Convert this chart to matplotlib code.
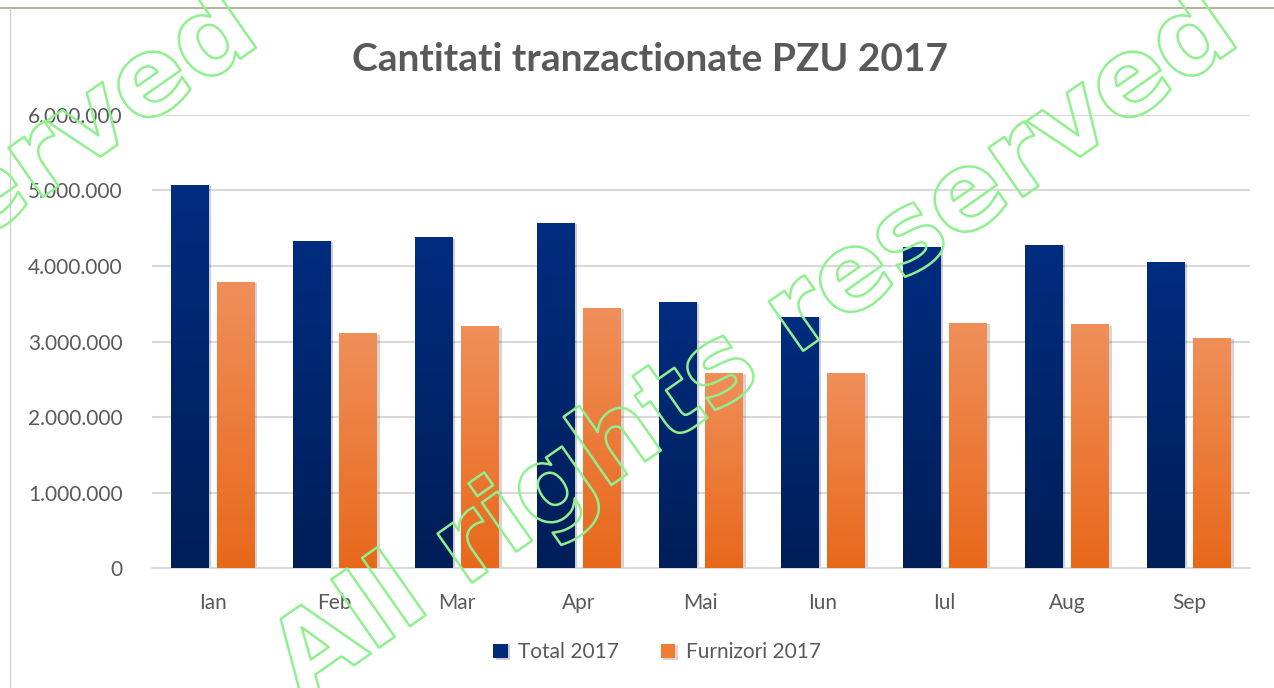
import numpy as np
import matplotlib.pyplot as plt
import matplotlib.patheffects as pe
from matplotlib.colors import LinearSegmentedColormap
from matplotlib.lines import Line2D
from matplotlib.ticker import FuncFormatter

months = ['Ian', 'Feb', 'Mar', 'Apr', 'Mai', 'Iun', 'Iul', 'Aug', 'Sep']
total_2017 = [5073000, 4330000, 4380000, 4570000, 3520000, 3330000, 4250000, 4280000, 4050000]
furnizori_2017 = [3790000, 3110000, 3200000, 3450000, 2590000, 2590000, 3250000, 3230000, 3050000]

TXT = '#595959'
plt.rcParams['font.family'] = ['Lato', 'DejaVu Sans']

fig = plt.figure(figsize=(12.74, 6.88), dpi=100)
ax = fig.add_axes([0.119, 0.174, 0.862, 0.659])

x = np.arange(len(months))
w = 0.31
off = 0.19
shadow = [pe.SimplePatchShadow(offset=(2, -1), alpha=0.2), pe.Normal()]
bars_t = ax.bar(x - off, total_2017, w, color='#002a78', zorder=2,
                path_effects=shadow, label='Total 2017')
bars_f = ax.bar(x + off, furnizori_2017, w, color='#f07d35', zorder=2,
                path_effects=shadow, label='Furnizori 2017')


def fill_gradient(bars, top, bottom):
    cmap = LinearSegmentedColormap.from_list('g', [bottom, top])
    grad = np.linspace(0, 1, 256).reshape(-1, 1)
    for b in bars:
        x0, y0 = b.get_x(), b.get_y()
        im = ax.imshow(grad, extent=[x0, x0 + b.get_width(), y0, y0 + b.get_height()],
                       origin='lower', aspect='auto', cmap=cmap, zorder=3)
        im.set_clip_path(b)


fill_gradient(bars_t, '#002d80', '#001e58')
fill_gradient(bars_f, '#f08f5a', '#e8681a')

ax.set_xlim(-0.5, len(months) - 0.5)
ax.set_ylim(0, 6000000)
ax.set_yticks(np.arange(0, 6000001, 1000000))
ax.yaxis.set_major_formatter(FuncFormatter(lambda v, p: f'{int(v):,}'.replace(',', '.')))
ax.set_xticks(x)
ax.set_xticklabels(months)
ax.tick_params(axis='both', length=0, labelsize=15, labelcolor=TXT)
ax.tick_params(axis='y', pad=21)
ax.tick_params(axis='x', pad=18)
ax.grid(axis='y', color='#d9d9d9', linewidth=1.5, zorder=0)
for s in ['top', 'right', 'left']:
    ax.spines[s].set_visible(False)
ax.spines['bottom'].set_color('#d9d9d9')
ax.spines['bottom'].set_linewidth(1.5)

fig.text(0.51, 0.913, 'Cantitati tranzactionate PZU 2017', ha='center', va='center',
         fontsize=28, fontweight='bold', color=TXT)

ax.legend(loc='center', bbox_to_anchor=(0.46, -0.185), ncol=2, frameon=False,
          fontsize=15, labelcolor=TXT, handlelength=0.7, handleheight=0.7,
          handletextpad=0.5, columnspacing=2.0)

# frame lines
fig.add_artist(Line2D([0, 1], [0.988, 0.988], color='#b8b49c', linewidth=1.5))
fig.add_artist(Line2D([0.008, 0.008], [0, 0.988], color='#d0d0d0', linewidth=1))

# watermark
for x0 in [0.237, 0.237 - 980 / 1274]:
    fig.text(x0, -0.02, 'All rights reserved', rotation=35, rotation_mode='anchor',
             ha='left', va='baseline', fontsize=79, fontweight='bold',
             family='DejaVu Sans', color='none', zorder=10,
             path_effects=[pe.Stroke(linewidth=1.8, foreground='#90f090')])

fig.savefig('out.png', dpi=100)
